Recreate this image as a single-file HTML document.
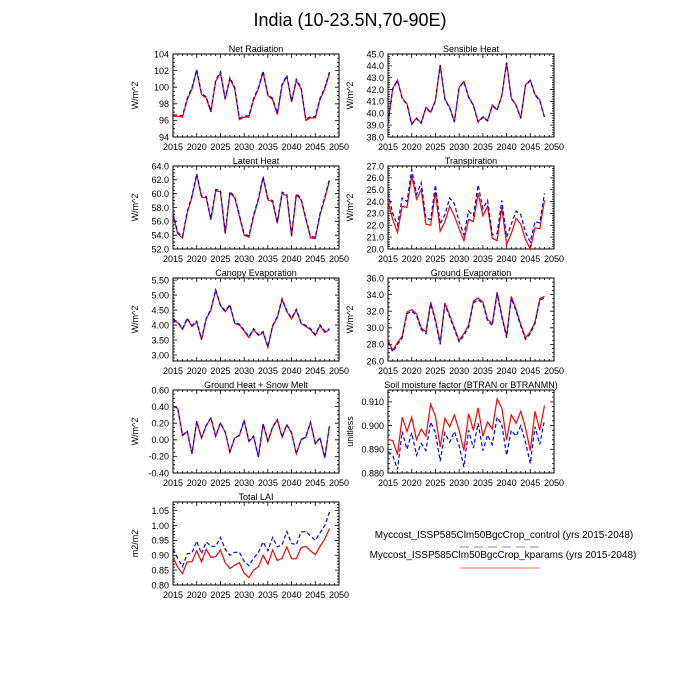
<!DOCTYPE html>
<html><head><meta charset="utf-8"><style>
html,body{margin:0;padding:0;background:#fff;}
svg{display:block;font-family:"Liberation Sans",sans-serif;}
</style></head><body>
<svg id="s" width="700" height="700" xmlns="http://www.w3.org/2000/svg">
<rect width="700" height="700" fill="#fff"/>
<text x="350" y="26" font-size="18" text-anchor="middle">India (10-23.5N,70-90E)</text>
<text x="504" y="538" font-size="10" text-anchor="middle">Myccost_ISSP585Clm50BgcCrop_control (yrs 2015-2048)</text>
<line x1="460" y1="547" x2="540" y2="547" stroke="#9aa0e0" stroke-width="1.3" stroke-dasharray="9,5"/>
<text x="503" y="558" font-size="10" text-anchor="middle">Myccost_ISSP585Clm50BgcCrop_kparams (yrs 2015-2048)</text>
<line x1="460" y1="568" x2="540" y2="568" stroke="#f88" stroke-width="1.3"/>
</svg>
<script>
const S=document.getElementById('s');const NS='http://www.w3.org/2000/svg';
function el(t,a,txt){const e=document.createElementNS(NS,t);for(const k in a)e.setAttribute(k,a[k]);if(txt!==undefined)e.textContent=txt;S.appendChild(e);return e;}
const panels=[
{x:173,y:54,t:'Net Radiation',yl:'W/m^2',lo:94,hi:104,tk:[94,96,98,100,102,104],d:0,mn:0.5,
r:[96.5,96.5,96.4,98.5,99.8,102,99.1,98.7,97,100.7,101.7,98.5,101,99.8,96.1,96.4,96.4,98.5,99.8,101.8,99,98.5,96.7,100.2,101.3,98.2,100.8,99.8,96,96.3,96.3,98.5,99.8,101.7],db:0.15},
{x:388,y:54,t:'Sensible Heat',yl:'W/m^2',lo:38,hi:45,tk:[38,39,40,41,42,43,44,45],d:1,mn:0.2,
r:[39.2,42.1,42.8,41.3,40.8,39.1,39.6,39.2,40.5,40.1,41.1,44.1,41.2,40.5,39.3,42.2,42.7,41.4,40.7,39.3,39.7,39.4,40.7,40.3,41.5,44.3,41.3,40.7,39.6,42.4,42.8,41.6,41.1,39.7],db:-0.05},
{x:173,y:166,t:'Latent Heat',yl:'W/m^2',lo:52,hi:64,tk:[52,54,56,58,60,62,64],d:1,mn:0.5,
r:[57,54.2,53.6,57.2,59.5,62.7,59.5,59.4,56.2,60.4,60.3,54.2,60.1,59.4,56.7,54,53.7,56.7,59.1,62.3,59.1,58.8,55.7,60,59.7,53.8,59.8,59.1,56.3,53.6,53.5,56.9,59.3,61.9],db:0.2},
{x:388,y:166,t:'Transpiration',yl:'W/m^2',lo:20,hi:27,tk:[20,21,22,23,24,25,26,27],d:1,mn:0.2,
r:[24,22.5,21.4,23.6,23.5,26.2,24.2,25,22.1,22,24.8,21.5,22.3,23.6,22.8,21.7,20.7,22.5,22.3,24.7,22.8,23.6,20.9,20.7,23.5,20.4,21.3,22.6,22.1,20.8,20,21.8,21.7,24.1],
b:[24.7,23,22,24.3,24,26.7,24.6,25.6,22.6,22.5,25.4,22.1,22.9,24.3,23.8,22.3,21.2,23.2,22.8,25.4,23.4,24.1,21.2,21.3,24.1,21.0,22.1,23.2,22.9,21.4,20.6,22.3,22.2,24.7]},
{x:173,y:278,t:'Canopy Evaporation',yl:'W/m^2',lo:2.8,hi:5.57,tk:[3,3.5,4,4.5,5,5.5],d:2,mn:0.1,
r:[4.15,4.08,3.85,4.2,3.95,4.1,3.5,4.2,4.5,5.15,4.65,4.45,4.65,4.05,4.0,3.8,3.58,3.85,3.65,3.75,3.25,3.95,4.25,4.85,4.45,4.2,4.5,4.05,3.95,3.85,3.65,3.98,3.75,3.85],db:0.03},
{x:388,y:278,t:'Ground Evaporation',yl:'W/m^2',lo:26,hi:36,tk:[26,28,30,32,34,36],d:1,mn:0.5,
r:[28.5,27.3,28.2,29,31.9,32.2,31.7,30,29.5,33.1,31,28.2,33,31.5,30,28.5,29.3,30.3,33.2,33.6,33.1,31,30.5,34.3,31.5,29,33.8,32.2,30.4,28.8,29.5,30.7,33.5,33.8],db:-0.2},
{x:173,y:390,t:'Ground Heat + Snow Melt',yl:'W/m^2',lo:-0.4,hi:0.6,tk:[-0.4,-0.2,0,0.2,0.4,0.6],d:2,mn:0.05,
r:[0.4,0.38,0.05,0.1,-0.17,0.22,0.02,0.17,0.26,0.04,0.2,0.09,-0.15,0.02,0.05,0.23,-0.02,0.04,-0.21,0.19,-0.02,0.15,0.24,0.03,0.18,0.08,-0.17,0,0.03,0.21,-0.05,0.02,-0.22,0.17],db:0.005},
{x:388,y:390,t:'Soil moisture factor (BTRAN or BTRANMN)',yl:'unitless',lo:0.88,hi:0.915,tk:[0.88,0.89,0.9,0.91],d:3,mn:0.002,
r:[.8942,.8936,.8878,.9035,.8975,.9035,.894,.8985,.8955,.909,.904,.891,.903,.8995,.9045,.898,.8895,.905,.898,.9075,.8955,.9015,.8985,.9112,.9075,.894,.9045,.901,.906,.899,.8895,.906,.898,.9085],
b:[.889,.8875,.8815,.8975,.890,.897,.8875,.8925,.8895,.9015,.897,.885,.897,.893,.8975,.8915,.8825,.898,.8905,.901,.8895,.896,.892,.9035,.9005,.8875,.898,.8955,.900,.893,.884,.8995,.892,.9025]},
{x:173,y:502,t:'Total LAI',yl:'m2/m2',lo:0.8,hi:1.079,tk:[0.8,0.85,0.9,0.95,1.0,1.05],d:2,mn:0.01,
r:[.893,.86,.838,.878,.878,.915,.878,.92,.893,.895,.918,.875,.855,.867,.875,.84,.825,.85,.862,.9,.87,.918,.882,.89,.928,.888,.888,.925,.93,.915,.902,.93,.955,.99],
b:[.92,.89,.862,.905,.908,.948,.905,.945,.93,.93,.96,.92,.9,.91,.91,.88,.865,.89,.91,.945,.915,.96,.928,.935,.98,.94,.935,.978,.98,.965,.95,.975,1.0,1.045]}
];
const W=166,H=83;
panels.forEach(p=>{
 const X=v=>p.x+(v-2015)/35*W, Y=v=>p.y+H-(v-p.lo)/(p.hi-p.lo)*H;
 el('text',{x:p.x+W/2,y:p.y-2,'font-size':9,'text-anchor':'middle'},p.t);
 const ym=p.y+H/2;
 el('text',{x:p.x-35,y:ym,'font-size':9,'text-anchor':'middle',transform:`rotate(-90 ${p.x-35} ${ym})`},p.yl);
 let g='';
 for(let yr=2015;yr<=2050;yr++){const x=X(yr),L=yr%5==0?4:2;g+=`M${x} ${p.y+H}v${-L}M${x} ${p.y}v${L}`;}
 let k=Math.ceil((p.lo-1e-9)/p.mn);
 for(;k*p.mn<=p.hi+1e-9;k++){const y=Y(k*p.mn);g+=`M${p.x} ${y}h2M${p.x+W} ${y}h-2`;}
 p.tk.forEach(v=>{const y=Y(v);g+=`M${p.x} ${y}h4M${p.x+W} ${y}h-4`;
  el('text',{x:p.x-4,y:y+3.3,'font-size':9,'text-anchor':'end'},v.toFixed(p.d));});
 for(let yr=2015;yr<=2050;yr+=5)el('text',{x:X(yr),y:p.y+H+13,'font-size':9,'text-anchor':'middle'},yr);
 el('path',{d:g,stroke:'#000','stroke-width':0.8,fill:'none'});
 el('rect',{x:p.x,y:p.y,width:W,height:H,fill:'none',stroke:'#000','stroke-width':1});
 const b=p.b||p.r.map(v=>v+p.db);
 const pts=a=>a.map((v,i)=>X(2015+i).toFixed(1)+','+Y(v).toFixed(1)).join(' ');
 el('polyline',{points:pts(p.r),fill:'none',stroke:'#f00','stroke-width':1.2});
 el('polyline',{points:pts(b),fill:'none',stroke:'#00f','stroke-width':1.2,'stroke-dasharray':'4,2.5'});
});
</script>
</body></html>
